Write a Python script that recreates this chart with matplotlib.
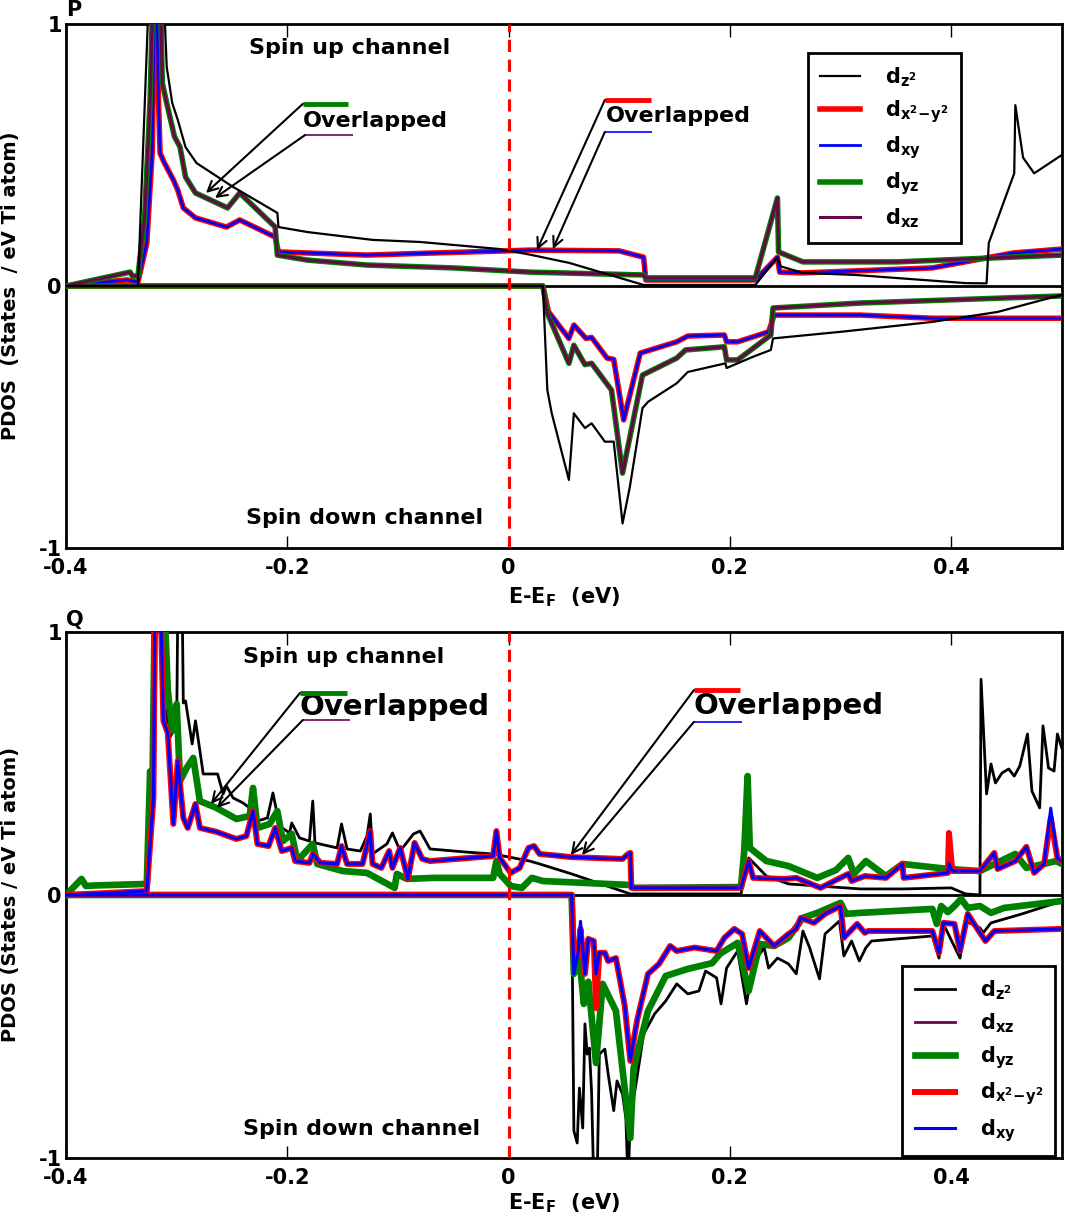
import matplotlib
matplotlib.use('Agg')
import matplotlib.pyplot as plt

plt.rcParams['font.family'] = 'DejaVu Sans'
plt.rcParams['font.weight'] = 'bold'
plt.rcParams['axes.labelweight'] = 'bold'
plt.rcParams['mathtext.default'] = 'bf'
plt.rcParams['axes.unicode_minus'] = False

# ── Panel P : spin up ─────────────────────────────────────────────────────────
p_up_E_z2 = [-0.400, -0.335, -0.3235, -0.3135, -0.309, -0.304, -0.299, -0.292, -0.282,
             -0.249, -0.209, -0.208, -0.182, -0.123, -0.080, -0.008, 0.019, 0.055,
             0.122, 0.223, 0.243, 0.246, 0.266, 0.314, 0.413, 0.432, 0.434, 0.457,
             0.458, 0.465, 0.475, 0.500]
p_up_z2 = [0.0, 0.0, 1.3, 1.3, 0.836, 0.698, 0.634, 0.53, 0.469,
           0.378, 0.279, 0.225, 0.206, 0.176, 0.168, 0.141, 0.120, 0.088,
           0.004, 0.004, 0.11, 0.075, 0.05, 0.042, 0.011, 0.01, 0.164, 0.43,
           0.69, 0.49, 0.43, 0.50]

# d_x2-y2 and d_xy coincide in P
p_up_E_x2y2 = [-0.400, -0.345, -0.335, -0.327, -0.322, -0.320, -0.318, -0.3165, -0.315,
               -0.311, -0.303, -0.299, -0.294, -0.283, -0.255, -0.243, -0.211, -0.208,
               -0.128, -0.068, -0.002, 0.019, 0.100, 0.122, 0.124, 0.223, 0.243, 0.245,
               0.266, 0.383, 0.456, 0.500]
p_up_x2y2 = [0.0, 0.023, 0.015, 0.164, 0.52, 1.15, 1.15, 0.72, 0.507,
             0.469, 0.405, 0.366, 0.298, 0.26, 0.225, 0.252, 0.187, 0.13,
             0.118, 0.126, 0.134, 0.137, 0.134, 0.11, 0.023, 0.023, 0.11, 0.053,
             0.05, 0.069, 0.126, 0.141]

# d_yz and d_xz coincide in P
p_up_E_yz = [-0.400, -0.342, -0.340, -0.335, -0.329, -0.324, -0.321, -0.315, -0.313,
             -0.309, -0.302, -0.297, -0.292, -0.283, -0.254, -0.243, -0.211, -0.209,
             -0.182, -0.128, -0.050, 0.019, 0.122, 0.124, 0.223, 0.243, 0.244, 0.266,
             0.351, 0.500]
p_up_yz = [0.0, 0.053, 0.038, 0.038, 0.26, 0.71, 1.2, 1.2, 0.775,
           0.698, 0.57, 0.531, 0.416, 0.355, 0.298, 0.355, 0.225, 0.118,
           0.099, 0.080, 0.069, 0.053, 0.042, 0.031, 0.031, 0.336, 0.13, 0.092,
           0.092, 0.118]

# ── Panel P : spin down ───────────────────────────────────────────────────────
p_dn_E_z2 = [-0.400, 0.031, 0.035, 0.039, 0.0545, 0.059, 0.069, 0.075, 0.087, 0.095,
             0.103, 0.1096, 0.121, 0.126, 0.152, 0.162, 0.196, 0.197, 0.221, 0.237,
             0.239, 0.302, 0.383, 0.442, 0.488, 0.500]
p_dn_z2 = [0.0, 0.0, -0.397, -0.486, -0.74, -0.486, -0.542, -0.524, -0.594, -0.594,
           -0.906, -0.766, -0.466, -0.442, -0.371, -0.328, -0.295, -0.313, -0.27, -0.244,
           -0.2, -0.174, -0.137, -0.099, -0.047, -0.034]

p_dn_E_x2y2 = [-0.400, 0.031, 0.036, 0.0545, 0.059, 0.070, 0.075, 0.089, 0.095, 0.104,
               0.119, 0.152, 0.162, 0.195, 0.197, 0.207, 0.235, 0.240, 0.318, 0.383,
               0.449, 0.500]
p_dn_x2y2 = [0.0, 0.0, -0.098, -0.2, -0.149, -0.2, -0.196, -0.275, -0.28, -0.511,
             -0.256, -0.213, -0.191, -0.187, -0.213, -0.213, -0.175, -0.111, -0.111, -0.123,
             -0.123, -0.123]

p_dn_E_yz = [-0.400, 0.031, 0.035, 0.0545, 0.059, 0.069, 0.075, 0.093, 0.103, 0.121,
             0.152, 0.160, 0.195, 0.197, 0.207, 0.237, 0.239, 0.318, 0.500]
p_dn_yz = [0.0, 0.0, -0.104, -0.295, -0.226, -0.3, -0.295, -0.397, -0.714, -0.34,
           -0.275, -0.244, -0.232, -0.282, -0.282, -0.187, -0.084, -0.065, -0.038]

# ── Panel Q : spin up ─────────────────────────────────────────────────────────
q_up_E_z2 = [-0.400, -0.327, -0.322, -0.320, -0.316, -0.312, -0.306, -0.300, -0.2985, -0.2955,
             -0.294, -0.292, -0.286, -0.283, -0.279, -0.276, -0.263, -0.258, -0.255, -0.249,
             -0.240, -0.234, -0.227, -0.218, -0.213, -0.207, -0.198, -0.196, -0.189, -0.180,
             -0.177, -0.175, -0.155, -0.151, -0.146, -0.134, -0.128, -0.125, -0.123, -0.110,
             -0.105, -0.098, -0.086, -0.080, -0.071, -0.038, -0.014, 0.019, 0.028, 0.057,
             0.110, 0.210, 0.217, 0.233, 0.253, 0.318, 0.357, 0.400, 0.413, 0.426,
             0.427, 0.432, 0.436, 0.440, 0.446, 0.452, 0.457, 0.462, 0.469, 0.473,
             0.480, 0.483, 0.488, 0.493, 0.496, 0.500]
q_up_z2 = [0.0, 0.0, 0.5, 1.2, 1.2, 0.75, 0.6, 0.65, 1.3, 1.3,
           0.73, 0.738, 0.574, 0.662, 0.548, 0.46, 0.46, 0.384, 0.414, 0.369,
           0.35, 0.331, 0.281, 0.293, 0.388, 0.262, 0.236, 0.274, 0.217, 0.205,
           0.357, 0.198, 0.179, 0.27, 0.175, 0.167, 0.224, 0.308, 0.156, 0.194,
           0.236, 0.167, 0.232, 0.243, 0.175, 0.163, 0.156, 0.129, 0.118, 0.08,
           0.004, 0.004, 0.141, 0.072, 0.042, 0.023, 0.023, 0.027, 0.004, 0.0,
           0.82, 0.384, 0.498, 0.426, 0.464, 0.479, 0.452, 0.49, 0.612, 0.395,
           0.331, 0.643, 0.483, 0.471, 0.612, 0.559]

q_up_E_x2y2 = [-0.400, -0.327, -0.321, -0.3195, -0.315, -0.312, -0.308, -0.303, -0.299, -0.294,
               -0.290, -0.283, -0.279, -0.264, -0.246, -0.237, -0.231, -0.227, -0.217, -0.211,
               -0.205, -0.196, -0.193, -0.180, -0.177, -0.170, -0.155, -0.151, -0.146, -0.132,
               -0.125, -0.123, -0.115, -0.108, -0.105, -0.098, -0.091, -0.085, -0.078, -0.071,
               -0.014, -0.011, -0.008, 0.002, 0.010, 0.018, 0.023, 0.028, 0.057, 0.103,
               0.108, 0.110, 0.111, 0.210, 0.217, 0.221, 0.250, 0.260, 0.282, 0.296,
               0.307, 0.310, 0.322, 0.341, 0.356, 0.357, 0.397, 0.398, 0.401, 0.426,
               0.439, 0.442, 0.458, 0.468, 0.475, 0.484, 0.490, 0.496, 0.500]
q_up_x2y2 = [0.0, 0.015, 0.369, 1.2, 1.2, 0.662, 0.616, 0.27, 0.51, 0.293,
             0.255, 0.346, 0.255, 0.24, 0.213, 0.224, 0.319, 0.194, 0.186, 0.255,
             0.167, 0.179, 0.129, 0.122, 0.156, 0.122, 0.118, 0.186, 0.118, 0.118,
             0.243, 0.118, 0.103, 0.167, 0.103, 0.179, 0.061, 0.198, 0.137, 0.129,
             0.148, 0.243, 0.141, 0.084, 0.103, 0.179, 0.186, 0.156, 0.144, 0.137,
             0.156, 0.16, 0.027, 0.027, 0.129, 0.065, 0.061, 0.065, 0.027, 0.057,
             0.08, 0.053, 0.072, 0.065, 0.118, 0.065, 0.084, 0.236, 0.091, 0.091,
             0.16, 0.099, 0.129, 0.183, 0.084, 0.118, 0.293, 0.141, 0.129]
q_up_xy = [0.0, 0.015, 0.369, 1.2, 1.2, 0.662, 0.616, 0.27, 0.51, 0.293,
           0.255, 0.346, 0.255, 0.24, 0.213, 0.224, 0.319, 0.194, 0.186, 0.255,
           0.167, 0.179, 0.129, 0.122, 0.156, 0.122, 0.118, 0.186, 0.118, 0.118,
           0.243, 0.118, 0.103, 0.167, 0.103, 0.179, 0.061, 0.198, 0.137, 0.129,
           0.148, 0.243, 0.141, 0.084, 0.103, 0.179, 0.186, 0.156, 0.144, 0.137,
           0.156, 0.16, 0.027, 0.027, 0.129, 0.065, 0.061, 0.065, 0.027, 0.057,
           0.08, 0.053, 0.072, 0.065, 0.118, 0.065, 0.084, 0.12, 0.091, 0.091,
           0.16, 0.099, 0.129, 0.183, 0.084, 0.118, 0.33, 0.141, 0.129]

# d_xz lies under d_yz in Q
q_up_E_yz = [-0.400, -0.386, -0.382, -0.375, -0.327, -0.324, -0.322, -0.3195, -0.312, -0.308,
             -0.304, -0.300, -0.297, -0.291, -0.285, -0.279, -0.264, -0.246, -0.234, -0.231,
             -0.227, -0.216, -0.209, -0.204, -0.196, -0.191, -0.177, -0.173, -0.150, -0.128,
             -0.103, -0.101, -0.092, -0.068, -0.014, -0.011, -0.008, 0.002, 0.012, 0.021,
             0.031, 0.110, 0.113, 0.210, 0.213, 0.216, 0.218, 0.233, 0.253, 0.279,
             0.296, 0.307, 0.312, 0.323, 0.341, 0.356, 0.397, 0.426, 0.458, 0.468,
             0.495, 0.500]
q_up_yz = [0.0, 0.061, 0.034, 0.036, 0.042, 0.47, 0.37, 1.2, 1.2, 0.776,
           0.624, 0.726, 0.433, 0.483, 0.521, 0.357, 0.331, 0.289, 0.30, 0.407,
           0.255, 0.27, 0.319, 0.205, 0.232, 0.129, 0.194, 0.118, 0.091, 0.084,
           0.027, 0.08, 0.061, 0.065, 0.065, 0.129, 0.08, 0.034, 0.027, 0.065,
           0.053, 0.038, 0.027, 0.03, 0.167, 0.452, 0.179, 0.129, 0.11, 0.065,
           0.095, 0.141, 0.08, 0.129, 0.072, 0.118, 0.099, 0.091, 0.156, 0.103,
           0.129, 0.118]

# ── Panel Q : spin down ───────────────────────────────────────────────────────
q_dn_E_z2 = [-0.400, 0.057, 0.059, 0.062, 0.064, 0.067, 0.069, 0.071, 0.073, 0.075,
             0.077, 0.080, 0.082, 0.087, 0.090, 0.095, 0.098, 0.103, 0.106, 0.108,
             0.110, 0.116, 0.122, 0.132, 0.142, 0.152, 0.162, 0.172, 0.178, 0.188,
             0.192, 0.197, 0.207, 0.215, 0.221, 0.231, 0.235, 0.243, 0.253, 0.260,
             0.266, 0.272, 0.281, 0.286, 0.299, 0.303, 0.310, 0.317, 0.323, 0.328,
             0.383, 0.389, 0.393, 0.408, 0.413, 0.426, 0.429, 0.436, 0.464, 0.500]
q_dn_z2 = [0.0, 0.0, -0.897, -0.943, -0.734, -0.886, -0.49, -0.605, -0.582, -0.75,
           -1.1, -1.1, -0.605, -0.586, -0.681, -0.82, -0.707, -0.757, -0.85, -1.1,
           -0.85, -0.696, -0.529, -0.452, -0.403, -0.338, -0.376, -0.365, -0.289, -0.315,
           -0.414, -0.278, -0.213, -0.414, -0.262, -0.2, -0.278, -0.24, -0.262, -0.3,
           -0.137, -0.2, -0.319, -0.148, -0.099, -0.232, -0.175, -0.251, -0.2, -0.175,
           -0.156, -0.24, -0.11, -0.24, -0.099, -0.125, -0.144, -0.106, -0.072, -0.023]

q_dn_E_x2y2 = [-0.400, 0.057, 0.059, 0.063, 0.065, 0.069, 0.072, 0.077, 0.079, 0.082,
               0.087, 0.090, 0.097, 0.105, 0.110, 0.116, 0.126, 0.136, 0.146, 0.152,
               0.168, 0.188, 0.195, 0.204, 0.211, 0.217, 0.227, 0.240, 0.253, 0.260,
               0.264, 0.276, 0.286, 0.300, 0.303, 0.315, 0.322, 0.325, 0.383, 0.389,
               0.393, 0.403, 0.408, 0.415, 0.422, 0.431, 0.439, 0.500]
q_dn_x2y2 = [0.0, 0.0, -0.251, -0.213, -0.129, -0.3, -0.167, -0.175, -0.43, -0.22,
             -0.22, -0.251, -0.24, -0.422, -0.631, -0.479, -0.3, -0.262, -0.194, -0.213,
             -0.2, -0.213, -0.163, -0.129, -0.148, -0.278, -0.137, -0.194, -0.148, -0.129,
             -0.087, -0.106, -0.072, -0.042, -0.163, -0.11, -0.144, -0.137, -0.137, -0.22,
             -0.106, -0.11, -0.213, -0.072, -0.118, -0.175, -0.137, -0.129]
q_dn_xy = [0.0, 0.0, -0.3, -0.213, -0.1, -0.3, -0.167, -0.175, -0.30, -0.22,
           -0.22, -0.251, -0.24, -0.422, -0.631, -0.479, -0.3, -0.262, -0.194, -0.213,
           -0.2, -0.213, -0.163, -0.129, -0.148, -0.278, -0.137, -0.194, -0.148, -0.129,
           -0.087, -0.106, -0.072, -0.042, -0.163, -0.11, -0.144, -0.137, -0.137, -0.22,
           -0.106, -0.11, -0.213, -0.072, -0.118, -0.175, -0.137, -0.129]

q_dn_E_yz = [-0.400, 0.057, 0.059, 0.064, 0.068, 0.072, 0.079, 0.085, 0.097, 0.110,
             0.113, 0.126, 0.142, 0.162, 0.184, 0.191, 0.207, 0.217, 0.227, 0.240,
             0.253, 0.266, 0.279, 0.300, 0.305, 0.318, 0.383, 0.387, 0.391, 0.397,
             0.403, 0.409, 0.415, 0.426, 0.436, 0.448, 0.500]
q_dn_yz = [0.0, 0.0, -0.3, -0.24, -0.414, -0.33, -0.639, -0.338, -0.441, -0.924,
           -0.658, -0.441, -0.308, -0.281, -0.259, -0.224, -0.182, -0.365, -0.186, -0.194,
           -0.163, -0.087, -0.068, -0.03, -0.072, -0.068, -0.053, -0.11, -0.042, -0.065,
           -0.042, -0.015, -0.049, -0.042, -0.068, -0.049, -0.023]

x_ticks = [-0.4, -0.2, 0.0, 0.2, 0.4]
x_tick_labels = ['-0.4', '-0.2', '0', '0.2', '0.4']
y_ticks = [-1, 0, 1]
y_tick_labels = ['-1', '0', '1']

LBL_Z2 = r'd$_{z^2}$'
LBL_X2Y2 = r'd$_{x^2\!-\!y^2}$'
LBL_XY = r'd$_{xy}$'
LBL_YZ = r'd$_{yz}$'
LBL_XZ = r'd$_{xz}$'

RED = '#ff0000'
BLUE = '#0000ff'
GREEN = '#008000'
MAROON = '#670748'


def style_axes(ax, ylabel, xlabel_y):
    ax.set_xlim(-0.4, 0.5)
    ax.set_ylim(-1, 1)
    ax.set_xticks(x_ticks)
    ax.set_xticklabels(x_tick_labels)
    ax.set_yticks(y_ticks)
    ax.set_yticklabels(y_tick_labels)
    ax.tick_params(direction='in', top=True, right=False, length=9, width=1,
                   labelsize=15)
    ax.tick_params(axis='x', pad=7)
    ax.tick_params(axis='y', pad=3)
    for sp in ax.spines.values():
        sp.set_linewidth(2)
    ax.axhline(0, color='k', lw=2, zorder=1)
    ax.axvline(0, color=RED, lw=2.2, ls=(0, (4, 2.5)), zorder=10)
    ax.set_xlabel(r'E-E$_F$  (eV)', fontsize=15, fontweight='bold')
    ax.xaxis.set_label_coords(0.5, xlabel_y)
    ax.set_ylabel(ylabel, fontsize=14, fontweight='bold')
    ax.yaxis.set_label_coords(-0.046, 0.5)


def overlapped(ax, text_xy, fs, top_bar, bot_bar, tips):
    # label with two short colour keys and two arrows onto the curve
    ax.text(text_xy[0], text_xy[1], 'Overlapped', fontsize=fs, ha='left', va='center',
            zorder=12)
    (x0, x1, y, c, w) = top_bar
    ax.plot([x0, x1], [y, y], color=c, lw=w, solid_capstyle='butt', zorder=12)
    ax.annotate('', xy=tips[0], xytext=(x0, y),
                arrowprops=dict(arrowstyle='->', color='k', lw=1.5,
                                shrinkA=0, shrinkB=0, mutation_scale=18), zorder=12)
    (x0, x1, y, c, w) = bot_bar
    ax.plot([x0, x1], [y, y], color=c, lw=w, solid_capstyle='butt', zorder=12)
    ax.annotate('', xy=tips[1], xytext=(x0, y),
                arrowprops=dict(arrowstyle='->', color='k', lw=1.5,
                                shrinkA=0, shrinkB=0, mutation_scale=18), zorder=12)


def make_legend(ax, handles, anchor):
    leg = ax.legend(handles=handles, loc='upper left', bbox_to_anchor=anchor,
                    fontsize=15, frameon=True, fancybox=False, framealpha=1,
                    edgecolor='k', handlelength=1.9, handletextpad=1.2,
                    labelspacing=0.45, borderpad=0.6, borderaxespad=0)
    leg.get_frame().set_linewidth(2)
    leg.set_zorder(20)


fig = plt.figure(figsize=(10.65, 12.16), dpi=100)
ax_p = fig.add_axes([0.062, 0.5493, 0.935, 0.431])
ax_q = fig.add_axes([0.062, 0.0477, 0.935, 0.4326])

# ── P ────────────────────────────────────────────────────────────────────────
h_x2y2, = ax_p.plot(p_up_E_x2y2, p_up_x2y2, color=RED, lw=4.0, label=LBL_X2Y2, zorder=3)
ax_p.plot(p_dn_E_x2y2, p_dn_x2y2, color=RED, lw=4.0, zorder=3)
h_xy, = ax_p.plot(p_up_E_x2y2, p_up_x2y2, color=BLUE, lw=2.0, label=LBL_XY, zorder=4)
ax_p.plot(p_dn_E_x2y2, p_dn_x2y2, color=BLUE, lw=2.0, zorder=4)
h_yz, = ax_p.plot(p_up_E_yz, p_up_yz, color=GREEN, lw=4.0, label=LBL_YZ, zorder=5)
ax_p.plot(p_dn_E_yz, p_dn_yz, color=GREEN, lw=4.0, zorder=5)
h_xz, = ax_p.plot(p_up_E_yz, p_up_yz, color=MAROON, lw=2.2, label=LBL_XZ, zorder=6)
ax_p.plot(p_dn_E_yz, p_dn_yz, color=MAROON, lw=2.2, zorder=6)
h_z2, = ax_p.plot(p_up_E_z2, p_up_z2, color='k', lw=1.6, label=LBL_Z2, zorder=7)
ax_p.plot(p_dn_E_z2, p_dn_z2, color='k', lw=1.6, zorder=7)

style_axes(ax_p, 'PDOS  (States  / eV Ti atom)', -0.072)
make_legend(ax_p, [h_z2, h_x2y2, h_xy, h_yz, h_xz], (0.745, 0.945))

ax_p.text(-0.144, 0.908, 'Spin up channel', fontsize=16, ha='center', va='center')
ax_p.text(-0.130, -0.885, 'Spin down channel', fontsize=16, ha='center', va='center')

overlapped(ax_p, (-0.186, 0.63), 16,
           (-0.186, -0.145, 0.695, GREEN, 3.5), (-0.184, -0.141, 0.576, MAROON, 1.2),
           [(-0.2735, 0.355), (-0.2654, 0.336)])
overlapped(ax_p, (0.088, 0.649), 16,
           (0.087, 0.129, 0.71, RED, 3.5), (0.087, 0.130, 0.588, BLUE, 1.2),
           [(0.0256, 0.137), (0.040, 0.141)])

# ── Q ────────────────────────────────────────────────────────────────────────
g_z2, = ax_q.plot(q_up_E_z2, q_up_z2, color='k', lw=2.0, label=LBL_Z2, zorder=3)
ax_q.plot(q_dn_E_z2, q_dn_z2, color='k', lw=2.0, zorder=3)
g_xz, = ax_q.plot(q_up_E_yz, q_up_yz, color=MAROON, lw=2.0, label=LBL_XZ, zorder=4)
ax_q.plot(q_dn_E_yz, q_dn_yz, color=MAROON, lw=2.0, zorder=4)
g_yz, = ax_q.plot(q_up_E_yz, q_up_yz, color=GREEN, lw=4.8, label=LBL_YZ, zorder=5)
ax_q.plot(q_dn_E_yz, q_dn_yz, color=GREEN, lw=4.8, zorder=5)
g_x2y2, = ax_q.plot(q_up_E_x2y2, q_up_x2y2, color=RED, lw=4.3, label=LBL_X2Y2, zorder=6)
ax_q.plot(q_dn_E_x2y2, q_dn_x2y2, color=RED, lw=4.3, zorder=6)
g_xy, = ax_q.plot(q_up_E_x2y2, q_up_xy, color=BLUE, lw=2.2, label=LBL_XY, zorder=7)
ax_q.plot(q_dn_E_x2y2, q_dn_xy, color=BLUE, lw=2.2, zorder=7)

style_axes(ax_q, 'PDOS (States / eV Ti atom)', -0.063)
make_legend(ax_q, [g_z2, g_xz, g_yz, g_x2y2, g_xy], (0.840, 0.365))

ax_q.text(-0.149, 0.905, 'Spin up channel', fontsize=16, ha='center', va='center')
ax_q.text(-0.133, -0.89, 'Spin down channel', fontsize=16, ha='center', va='center')

overlapped(ax_q, (-0.189, 0.715), 21,
           (-0.1886, -0.146, 0.768, GREEN, 3.5), (-0.186, -0.143, 0.665, MAROON, 1.2),
           [(-0.269, 0.346), (-0.2636, 0.331)])
overlapped(ax_q, (0.1675, 0.719), 21,
           (0.1675, 0.209, 0.779, RED, 3.5), (0.1675, 0.211, 0.658, BLUE, 1.2),
           [(0.0563, 0.152), (0.0663, 0.152)])

fig.text(0.062, 0.992, 'P', fontsize=15, ha='left', va='center')
fig.text(0.062, 0.490, 'Q', fontsize=15, ha='left', va='center')

fig.savefig('out.png', dpi=100)
